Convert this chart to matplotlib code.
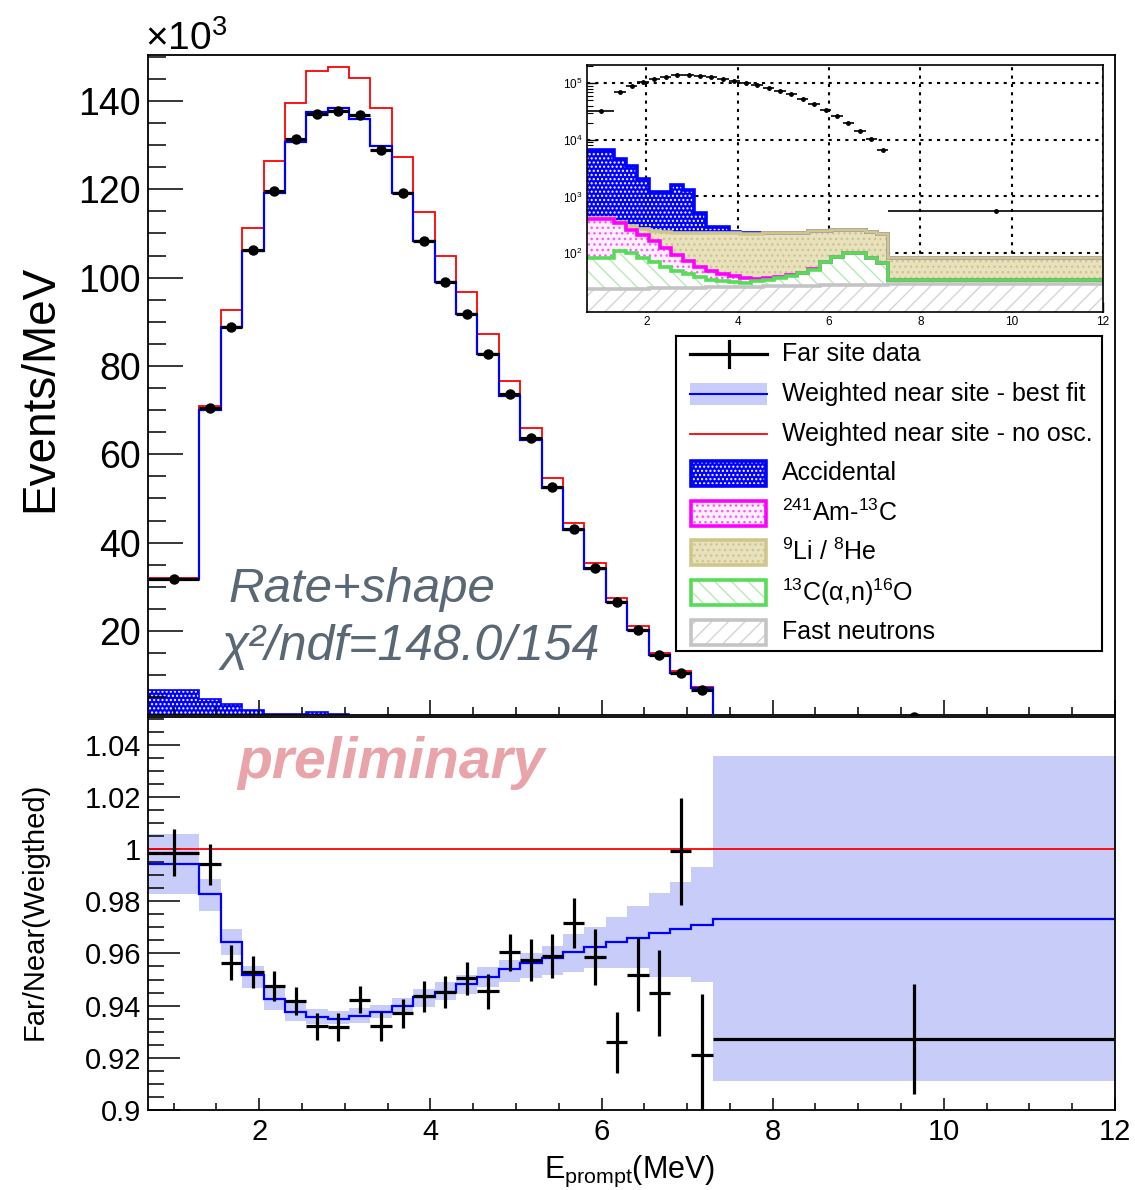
import numpy as np
import matplotlib
matplotlib.use("Agg")
import matplotlib.pyplot as plt
from matplotlib.patches import Rectangle
from matplotlib.ticker import MultipleLocator, FixedLocator, NullFormatter

plt.rcParams['font.family'] = ['Liberation Sans', 'DejaVu Sans']
plt.rcParams['mathtext.fontset'] = 'custom'
plt.rcParams['mathtext.rm'] = 'Liberation Sans'
plt.rcParams['mathtext.it'] = 'Liberation Sans:italic'
plt.rcParams['mathtext.bf'] = 'Liberation Sans:bold'
plt.rcParams['hatch.linewidth'] = 1.0

# ---------------- data ----------------
bin_edges = [0.7, 1.3, 1.55, 1.8, 2.05, 2.3, 2.55, 2.8, 3.05, 3.3, 3.55, 3.8, 4.05,
             4.3, 4.55, 4.8, 5.05, 5.3, 5.55, 5.8, 6.05, 6.3, 6.55, 6.8, 7.05, 7.3, 12.0]

# events/MeV in units of 10^3
far_data = [31.8, 70.4, 88.8, 106.3, 119.7, 131.4, 137.1, 137.7, 136.8, 128.9, 119.1, 108.2,
            99.0, 91.8, 82.7, 73.7, 63.6, 52.6, 43.1, 34.3, 26.6, 20.2, 14.6, 10.5, 6.7, 0.56]
near_best_fit = [31.7, 70.0, 88.8, 106.0, 119.1, 130.8, 137.4, 138.3, 135.9, 129.7, 119.1, 108.2,
                 99.0, 91.8, 82.7, 73.2, 63.2, 52.4, 42.9, 34.1, 26.6, 20.3, 14.5, 10.6, 7.1, 0.56]
near_no_osc = [31.9, 71.0, 92.7, 111.3, 126.3, 139.6, 146.7, 147.6, 145.3, 138.3, 127.2, 114.8,
               104.8, 96.7, 87.2, 76.7, 66.0, 54.6, 44.5, 35.4, 27.5, 21.1, 15.0, 10.9, 7.4, 0.58]

# backgrounds, events/MeV
bkg_accidental = [6254, 4272, 3086, 1759, 935, 945, 1359, 1087, 285, 67, 63, 18, 4, 2, 1.5, 1.2,
                  1.0, 0.8, 0.7, 0.6, 0.5, 0.4, 0.4, 0.3, 0.3, 0.1]
bkg_amc = [317, 232, 159, 124, 92, 66, 46, 29, 19, 15, 11.5, 8.5, 6.0, 3.5, 2.5, 2.0, 1.6, 1.3,
           1.1, 0.9, 0.8, 0.6, 0.5, 0.4, 0.3, 0.1]
bkg_li_he = [17, 14, 45, 60, 81, 109, 132, 154, 167, 174, 179, 183, 185, 186, 186, 184, 183, 185,
             190, 177, 167, 159, 154, 158, 149, 48]
bkg_alpha_n = [59, 84, 77, 58, 45, 33, 24, 18, 13, 9.2, 6.5, 5.3, 4.6, 5.9, 7.9, 10.5, 13.8, 17.3,
               24.4, 43, 59, 73, 73, 54, 38, 5.6]
bkg_fast_n = [23.0, 23.2, 23.4, 23.6, 23.8, 24.0, 24.2, 24.4, 24.6, 24.8, 25.0, 25.2, 25.4, 25.6,
              25.8, 26.0, 26.2, 26.4, 26.6, 26.8, 27.0, 27.2, 27.4, 27.6, 27.8, 28.4]

# ratio panel
ratio_data = [0.9986, 0.9941, 0.9565, 0.9528, 0.9476, 0.9418, 0.9321, 0.9318, 0.9423, 0.9321,
              0.9370, 0.9436, 0.9453, 0.9504, 0.9455, 0.9604, 0.9574, 0.9591, 0.9715, 0.9586,
              0.9259, 0.9519, 0.9449, 0.9992, 0.9210, 0.9271]
ratio_err = [0.0090, 0.0080, 0.0068, 0.0062, 0.0058, 0.0053, 0.0052, 0.0052, 0.0051, 0.0055,
             0.0056, 0.0059, 0.0062, 0.0065, 0.0068, 0.0072, 0.0080, 0.0084, 0.0096, 0.0107,
             0.0118, 0.0140, 0.0164, 0.0205, 0.0236, 0.0210]
ratio_fit = [0.9942, 0.9826, 0.9644, 0.9517, 0.9427, 0.9374, 0.9357, 0.9350, 0.9361, 0.9376,
             0.9400, 0.9433, 0.9454, 0.9481, 0.9509, 0.9539, 0.9562, 0.9583, 0.9604, 0.9624,
             0.9643, 0.9661, 0.9680, 0.9693, 0.9709, 0.9733]
ratio_band_hi = [1.0058, 0.9885, 0.9692, 0.9551, 0.9472, 0.9417, 0.9386, 0.9379, 0.9389, 0.9402,
                 0.9430, 0.9462, 0.9491, 0.9517, 0.9549, 0.9574, 0.9600, 0.9628, 0.9676, 0.9702,
                 0.9740, 0.9783, 0.9830, 0.9875, 0.9930, 1.0358]
ratio_band_lo = [0.9826, 0.9763, 0.9593, 0.9468, 0.9385, 0.9342, 0.9331, 0.9329, 0.9334, 0.9351,
                 0.9366, 0.9395, 0.9421, 0.9444, 0.9472, 0.9491, 0.9504, 0.9517, 0.9530, 0.9544,
                 0.9545, 0.9545, 0.9510, 0.9510, 0.9489, 0.9111]

top_yticks = [20, 40, 60, 80, 100, 120, 140]
ratio_yticks = [0.9, 0.92, 0.94, 0.96, 0.98, 1.0, 1.02, 1.04]
ratio_yticklabels = ['0.9', '0.92', '0.94', '0.96', '0.98', '1', '1.02', '1.04']
xticks = [2, 4, 6, 8, 10, 12]
inset_yticks = [1e2, 1e3, 1e4, 1e5]
inset_yticklabels = ['$10^{2}$', '$10^{3}$', '$10^{4}$', '$10^{5}$']

legend_labels = ['Far site data', 'Weighted near site - best fit', 'Weighted near site - no osc.',
                 'Accidental', '$^{241}$Am-$^{13}$C', '$^{9}$Li / $^{8}$He',
                 '$^{13}$C(\u03b1,n)$^{16}$O', 'Fast neutrons']

# ---------------- styles ----------------
BLUE = '#0000ff'
RED = '#ff0000'
BAND = '#c8ccf8'
bkg_components = [bkg_fast_n, bkg_alpha_n, bkg_amc, bkg_li_he, bkg_accidental]  # bottom -> top
bkg_styles = [
    dict(face='white', hatchc='#d4d4d4', hatch='//', line='#c4c4c4'),
    dict(face='white', hatchc='#b8e8b8', hatch='\\\\', line='#55dd55'),
    dict(face='#fff0ff', hatchc='#ff55ff', hatch='...', line='#ff00ff'),
    dict(face='#e8e1bd', hatchc='#cfc58c', hatch='...', line='#d0c68c'),
    dict(face=BLUE, hatchc='white', hatch='....', line=BLUE),
]

W, H = 1135, 1190
fig = plt.figure(figsize=(W / 100, H / 100), dpi=100)

edges = np.asarray(bin_edges)
centers = 0.5 * (edges[:-1] + edges[1:])
halfw = 0.5 * (edges[1:] - edges[:-1])


def draw_stack(ax, scale, base, lw):
    cum = np.zeros(len(centers))
    tops = []
    for i, (vals, st) in enumerate(zip(bkg_components, bkg_styles)):
        lo = cum.copy()
        cum = cum + np.asarray(vals, dtype=float) * scale
        baseline = np.full(len(centers), base) if i == 0 else lo
        ax.stairs(cum, edges, baseline=baseline, fill=True, facecolor=st['face'],
                  edgecolor=st['hatchc'], hatch=st['hatch'], linewidth=0, zorder=1)
        tops.append(cum.copy())
    for top, st in reversed(list(zip(tops, bkg_styles))):
        ax.stairs(top, edges, baseline=None, color=st['line'], linewidth=lw, zorder=2)


def px_axes(l, t, r, b):
    return fig.add_axes([l / W, 1 - b / H, (r - l) / W, (b - t) / H])


# ---------------- top panel ----------------
ax = px_axes(148, 55, 1115, 715)
draw_stack(ax, 1e-3, 0.0, 1.2)
ax.stairs(near_no_osc, edges, baseline=None, color=RED, linewidth=1.3, zorder=3)
ax.stairs(near_best_fit, edges, baseline=None, color=BLUE, linewidth=1.6, zorder=3)
ax.errorbar(centers, far_data, xerr=halfw, fmt='o', color='black', ms=6.5,
            elinewidth=2.3, capsize=0, zorder=4)
ax.set_xlim(0.7, 12)
ax.set_ylim(0.98, 150.4)
ax.yaxis.set_major_locator(FixedLocator(top_yticks))
ax.yaxis.set_minor_locator(MultipleLocator(5))
ax.xaxis.set_major_locator(FixedLocator(xticks))
ax.xaxis.set_minor_locator(MultipleLocator(0.5))
ax.tick_params(axis='y', which='major', direction='in', length=25, width=1.1, labelsize=27, pad=5)
ax.tick_params(axis='y', which='minor', direction='in', length=13, width=1.1)
ax.tick_params(axis='x', which='major', direction='in', length=11, width=1.1, labelbottom=False)
ax.tick_params(axis='x', which='minor', direction='in', length=6, width=1.1)
for s in ax.spines.values():
    s.set_linewidth(1.3)

fig.text(145 / W, 1 - 50 / H, r'$\times$10$^{3}$', fontsize=28, ha='left', va='baseline')
fig.text(40 / W, 1 - 388 / H, 'Events/MeV', rotation=90, fontsize=33, ha='center', va='center')
fig.text(228 / W, 1 - 602 / H, 'Rate+shape', fontsize=35.5, style='italic', color='#5a6775',
         ha='left', va='baseline')
fig.text(222 / W, 1 - 660 / H, '\u03c7\u00b2/ndf=148.0/154', fontsize=36, style='italic',
         color='#5a6775', ha='left', va='baseline')

# ---------------- inset ----------------
axi = px_axes(587, 65, 1103, 312)
axi.set_yscale('log')
axi.set_axisbelow(True)
draw_stack(axi, 1.0, 1.0, 2.6)
axi.errorbar(centers, np.asarray(far_data) * 1e3, xerr=halfw, fmt='o', color='black', ms=2.5,
             elinewidth=1.2, capsize=0, zorder=4)
axi.set_xlim(0.7, 12)
axi.set_ylim(9.1, 2.1e5)
axi.xaxis.set_major_locator(FixedLocator(xticks))
axi.set_xticklabels([str(v) for v in xticks])
axi.yaxis.set_major_locator(FixedLocator(inset_yticks))
axi.set_yticklabels(inset_yticklabels)
axi.grid(True, which='major', color='black', linestyle=(0, (1.5, 2.5)), linewidth=1.5)
axi.tick_params(axis='both', which='major', direction='in', length=7, width=1.0, labelsize=8.5, pad=3)
axi.tick_params(axis='y', which='minor', direction='in', length=4, width=0.8)
axi.yaxis.set_minor_formatter(NullFormatter())
for s in axi.spines.values():
    s.set_linewidth(1.2)

# ---------------- legend ----------------
lg = px_axes(676, 336, 1102, 651)
lg.set_xlim(676, 1102)
lg.set_ylim(651, 336)
lg.set_xticks([])
lg.set_yticks([])
for s in lg.spines.values():
    s.set_linewidth(1.5)
ys = [354, 394, 434, 473, 513, 552, 592, 632]
lg.plot([690, 767], [ys[0], ys[0]], color='black', lw=2.3)
lg.plot([729, 729], [ys[0] - 13, ys[0] + 13], color='black', lw=2.3)
lg.add_patch(Rectangle((690, ys[1] - 11), 77, 22, facecolor=BAND, edgecolor='none'))
lg.plot([690, 767], [ys[1], ys[1]], color=BLUE, lw=1.5)
lg.plot([690, 767], [ys[2], ys[2]], color=RED, lw=1.3)
for yc, st in zip(ys[3:], [bkg_styles[4], bkg_styles[2], bkg_styles[3], bkg_styles[1], bkg_styles[0]]):
    lg.add_patch(Rectangle((691, yc - 12.5), 75, 25, facecolor=st['face'], edgecolor=st['hatchc'],
                           hatch=st['hatch'], linewidth=0))
    lg.add_patch(Rectangle((691, yc - 12.5), 75, 25, fill=False, edgecolor=st['line'], linewidth=2.6))
for yc, lab in zip(ys, legend_labels):
    lg.text(782, yc, lab, fontsize=18, ha='left', va='center')

# ---------------- ratio panel ----------------
axr = px_axes(148, 717, 1115, 1110)
axr.stairs(ratio_band_hi, edges, baseline=ratio_band_lo, fill=True, facecolor=BAND,
           edgecolor='none', linewidth=0, zorder=1)
axr.stairs(ratio_fit, edges, baseline=None, color=BLUE, linewidth=1.6, zorder=2)
axr.axhline(1.0, color=RED, linewidth=1.3, zorder=2)
axr.errorbar(centers, ratio_data, xerr=halfw, yerr=ratio_err, fmt='none', ecolor='black',
             elinewidth=2.3, capsize=0, zorder=3)
axr.set_xlim(0.7, 12)
axr.set_ylim(0.9, 1.0506)
axr.yaxis.set_major_locator(FixedLocator(ratio_yticks))
axr.set_yticklabels(ratio_yticklabels)
axr.yaxis.set_minor_locator(MultipleLocator(0.005))
axr.xaxis.set_major_locator(FixedLocator(xticks))
axr.set_xticklabels([str(v) for v in xticks])
axr.xaxis.set_minor_locator(MultipleLocator(0.5))
axr.tick_params(axis='y', which='major', direction='in', length=23, width=1.1, labelsize=21, pad=5)
axr.tick_params(axis='y', which='minor', direction='in', length=11.5, width=1.1)
axr.tick_params(axis='x', which='major', direction='in', length=8.5, width=1.1, labelsize=21, pad=6)
axr.tick_params(axis='x', which='minor', direction='in', length=5, width=1.1)
for s in axr.spines.values():
    s.set_linewidth(1.3)

fig.text(237 / W, 1 - 778 / H, 'preliminary', fontsize=41, weight='bold', style='italic',
         color='#e8a4a8', ha='left', va='baseline')
fig.text(35 / W, 1 - 911 / H, 'Far/Near(Weigthed)', rotation=90, fontsize=21, ha='center', va='center')
fig.text(630 / W, 1 - 1178 / H, r'E$_{\mathrm{prompt}}$(MeV)', fontsize=22, ha='center', va='baseline')

fig.savefig('out.png', dpi=100)
